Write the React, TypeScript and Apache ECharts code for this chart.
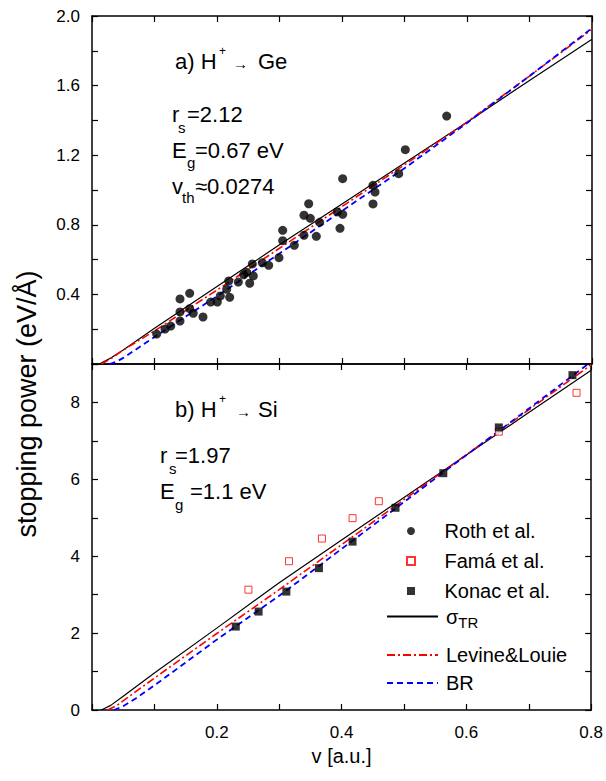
import React, { useEffect, useRef } from 'react';
import * as echarts from 'echarts';

const FONT = "'Liberation Sans', Arial, Helvetica, sans-serif";

// ---------- panel a) H+ -> Ge ----------
const rothV = [0.1035, 0.1168, 0.126, 0.1408, 0.1408, 0.1408, 0.1563, 0.1563, 0.162, 0.1776, 0.1899, 0.2005, 0.2053, 0.2155, 0.2203, 0.2187, 0.2341, 0.2427, 0.2475, 0.2523, 0.2565, 0.2581, 0.2725, 0.2827, 0.2992, 0.3051, 0.3051, 0.3237, 0.3392, 0.3392, 0.3467, 0.3493, 0.3589, 0.3643, 0.3925, 0.3968, 0.4011, 0.4011, 0.4496, 0.4528, 0.4496, 0.4907, 0.5013, 0.5675];
const rothS = [0.172, 0.201, 0.218, 0.247, 0.299, 0.374, 0.406, 0.318, 0.291, 0.27, 0.356, 0.356, 0.391, 0.429, 0.383, 0.477, 0.471, 0.513, 0.527, 0.464, 0.575, 0.506, 0.582, 0.567, 0.611, 0.709, 0.768, 0.682, 0.74, 0.855, 0.921, 0.837, 0.734, 0.814, 0.874, 0.78, 0.86, 1.065, 1.027, 0.988, 0.92, 1.094, 1.232, 1.425];

const geTrV = [0.012, 0.02, 0.03, 0.05, 0.1, 0.2, 0.3, 0.4, 0.5, 0.6, 0.7, 0.8];
const geTrS = [0, 0.015, 0.035, 0.08, 0.205, 0.445, 0.685, 0.92, 1.155, 1.39, 1.63, 1.866];
const geLlV = [0.015, 0.03, 0.05, 0.1, 0.2, 0.3, 0.4, 0.5, 0.6, 0.7, 0.8];
const geLlS = [0, 0.03, 0.08, 0.19, 0.425, 0.665, 0.905, 1.145, 1.39, 1.655, 1.923];
const geBrV = [0.028, 0.04, 0.05, 0.1, 0.2, 0.3, 0.4, 0.5, 0.6, 0.7, 0.8];
const geBrS = [0, 0.015, 0.035, 0.155, 0.39, 0.635, 0.88, 1.125, 1.385, 1.655, 1.93];

// ---------- panel b) H+ -> Si ----------
const famaV = [0.2507, 0.3157, 0.3685, 0.4176, 0.4597, 0.652, 0.7765];
const famaS = [3.13, 3.87, 4.46, 4.99, 5.43, 7.24, 8.25];
const konacV = [0.2304, 0.267, 0.3115, 0.3637, 0.4176, 0.4864, 0.563, 0.652, 0.77];
const konacS = [2.17, 2.56, 3.08, 3.69, 4.38, 5.26, 6.16, 7.35, 8.71];

const siTrV = [0.015, 0.03, 0.05, 0.1, 0.2, 0.3, 0.4, 0.5, 0.6, 0.7, 0.8];
const siTrS = [0, 0.12, 0.36, 0.96, 2.13, 3.31, 4.42, 5.53, 6.63, 7.74, 8.84];
const siLlV = [0.025, 0.04, 0.06, 0.1, 0.2, 0.3, 0.4, 0.5, 0.6, 0.7, 0.8];
const siLlS = [0, 0.12, 0.36, 0.83, 1.99, 3.13, 4.3, 5.47, 6.64, 7.81, 8.98];
const siBrV = [0.035, 0.05, 0.07, 0.1, 0.2, 0.3, 0.4, 0.5, 0.6, 0.7, 0.8];
const siBrS = [0, 0.1, 0.3, 0.64, 1.83, 2.97, 4.19, 5.41, 6.63, 7.84, 9.06];

const legendMarkers = ['Roth et al.', 'Famá et al.', 'Konac et al.'];
const legendTheory = ['σTR'];
const legendOthers = ['Levine&Louie', 'BR'];

const SQUARE_ICON = 'path://M0 0H10V10H0Z';

const zip = (a: number[], b: number[]) => a.map((v, i) => [v, b[i]]);

const TR_STYLE = { color: '#000000', width: 1.2, type: 'solid' as const };
const LL_STYLE = { color: '#ff0000', width: 1.6, type: [8, 3, 2, 3] };
const BR_STYLE = { color: '#0000ff', width: 1.8, type: [6, 4] };

function xAx(gridIndex: number, position: 'top' | 'bottom', labels: boolean) {
  return {
    type: 'value',
    gridIndex,
    position,
    min: 0,
    max: 0.8,
    interval: 0.1,
    axisLine: { show: true, onZero: false, lineStyle: { color: '#000', width: 1.5 } },
    axisTick: { show: true, inside: true, length: 6, lineStyle: { color: '#000', width: 1.2 } },
    splitLine: { show: false },
    axisLabel: {
      show: labels,
      margin: 14,
      fontSize: 17,
      fontFamily: FONT,
      color: '#000',
      showMinLabel: true,
      showMaxLabel: true,
      formatter: (v: number) => {
        const k = Math.round(v * 10);
        return k > 0 && k % 2 === 0 ? v.toFixed(1) : '';
      },
    },
  };
}

function yAx(gridIndex: number, position: 'left' | 'right', labels: boolean, max: number, interval: number, fmt: (v: number) => string) {
  return {
    type: 'value',
    gridIndex,
    position,
    min: 0,
    max,
    interval,
    axisLine: { show: true, onZero: false, lineStyle: { color: '#000', width: 1.5 } },
    axisTick: { show: true, inside: true, length: 6, lineStyle: { color: '#000', width: 1.2 } },
    splitLine: { show: false },
    axisLabel: {
      show: labels,
      margin: 12,
      fontSize: 17,
      fontFamily: FONT,
      color: '#000',
      showMinLabel: true,
      showMaxLabel: true,
      formatter: fmt,
    },
  };
}

function txt(text: string, x: number, y: number, size: number, extra: any = {}) {
  return {
    type: 'text',
    x,
    y,
    silent: true,
    style: {
      text,
      fontSize: size,
      fontFamily: FONT,
      fill: '#000',
      align: 'left',
      verticalAlign: 'middle',
      textAlign: 'left',
      textVerticalAlign: 'middle',
      ...extra,
    },
  };
}

const HIDDEN_SYMBOL = { color: 'rgba(0,0,0,0)', borderColor: 'rgba(0,0,0,0)', borderWidth: 0, opacity: 0 };

export default function App() {
  const ref = useRef<HTMLDivElement>(null);
  useEffect(() => {
    document.body.style.margin = '0';
    if (!ref.current) return;
    const chart = echarts.init(ref.current, null, { renderer: 'svg' });

    const topFmt = (v: number) => {
      const k = Math.round(v * 10);
      return k > 0 && k % 4 === 0 ? v.toFixed(1) : '';
    };
    const botFmt = (v: number) => {
      const k = Math.round(v);
      return k % 2 === 0 ? String(k) : '';
    };

    const legendBase = {
      orient: 'vertical',
      left: 386,
      padding: 0,
      itemWidth: 51,
      itemHeight: 8,
      itemGap: 0,
      selectedMode: false,
    };

    const option: any = {
      animation: false,
      backgroundColor: '#ffffff',
      grid: [
        { left: 92, top: 16, width: 500, height: 348 },
        { left: 92, top: 364, width: 500, height: 346 },
      ],
      xAxis: [
        xAx(0, 'bottom', false),
        xAx(0, 'top', false),
        {
          ...xAx(1, 'bottom', true),
          name: 'v [a.u.]',
          nameLocation: 'middle',
          nameGap: 36,
          nameTextStyle: { fontSize: 20, fontFamily: FONT, color: '#000' },
        },
        xAx(1, 'top', false),
      ],
      yAxis: [
        yAx(0, 'left', true, 2.0, 0.2, topFmt),
        yAx(0, 'right', false, 2.0, 0.2, topFmt),
        yAx(1, 'left', true, 9, 1, botFmt),
        yAx(1, 'right', false, 9, 1, botFmt),
      ],
      legend: [
        {
          ...legendBase,
          left: 406,
          top: 516,
          data: legendMarkers.map((n, i) => (i === 0 ? { name: n } : { name: n, icon: SQUARE_ICON })),
          textStyle: { fontSize: 20, lineHeight: 30, fontFamily: FONT, color: '#000', padding: [0, 0, 0, 3] },
        },
        {
          ...legendBase,
          top: 603,
          data: legendTheory,
          itemStyle: HIDDEN_SYMBOL,
          formatter: () => '{a|σ}{b|TR}',
          textStyle: {
            fontFamily: FONT,
            color: '#000',
            padding: [0, 0, 0, 3],
            rich: {
              a: { fontSize: 20, fontFamily: FONT, color: '#000', lineHeight: 22 },
              b: { fontSize: 15, fontFamily: FONT, color: '#000', lineHeight: 16, padding: [12, 0, 0, 0] },
            },
          },
        },
        {
          ...legendBase,
          top: 641,
          data: legendOthers,
          itemStyle: HIDDEN_SYMBOL,
          textStyle: { fontSize: 20, lineHeight: 28, fontFamily: FONT, color: '#000', padding: [0, 0, 0, 3] },
        },
      ],
      series: [
        { name: 'σTR', type: 'line', xAxisIndex: 0, yAxisIndex: 0, symbol: 'none', data: zip(geTrV, geTrS), lineStyle: TR_STYLE, itemStyle: { color: '#000' } },
        { name: 'Levine&Louie', type: 'line', xAxisIndex: 0, yAxisIndex: 0, symbol: 'none', data: zip(geLlV, geLlS), lineStyle: LL_STYLE, itemStyle: { color: '#ff0000' } },
        { name: 'BR', type: 'line', xAxisIndex: 0, yAxisIndex: 0, symbol: 'none', data: zip(geBrV, geBrS), lineStyle: BR_STYLE, itemStyle: { color: '#0000ff' } },
        { name: 'Roth et al.', type: 'scatter', xAxisIndex: 0, yAxisIndex: 0, symbol: 'circle', symbolSize: 9, data: zip(rothV, rothS), itemStyle: { color: '#000' }, z: 5 },

        { name: 'σTR', type: 'line', xAxisIndex: 2, yAxisIndex: 2, symbol: 'none', data: zip(siTrV, siTrS), lineStyle: TR_STYLE, itemStyle: { color: '#000' } },
        { name: 'Levine&Louie', type: 'line', xAxisIndex: 2, yAxisIndex: 2, symbol: 'none', data: zip(siLlV, siLlS), lineStyle: LL_STYLE, itemStyle: { color: '#ff0000' } },
        { name: 'BR', type: 'line', xAxisIndex: 2, yAxisIndex: 2, symbol: 'none', data: zip(siBrV, siBrS), lineStyle: BR_STYLE, itemStyle: { color: '#0000ff' } },
        { name: 'Famá et al.', type: 'scatter', xAxisIndex: 2, yAxisIndex: 2, symbol: 'rect', symbolSize: 7, data: zip(famaV, famaS), itemStyle: { color: '#ffffff', borderColor: '#ff0000', borderWidth: 1 }, z: 5 },
        { name: 'Konac et al.', type: 'scatter', xAxisIndex: 2, yAxisIndex: 2, symbol: 'rect', symbolSize: 8, data: zip(konacV, konacS), itemStyle: { color: '#000' }, z: 5 },
      ],
      graphic: [
        {
          type: 'text',
          x: 27,
          y: 404,
          rotation: Math.PI / 2,
          silent: true,
          style: {
            text: 'stopping power (eV/Å)',
            fontSize: 27,
            fontFamily: FONT,
            fill: '#000',
            align: 'center',
            verticalAlign: 'middle',
            textAlign: 'center',
            textVerticalAlign: 'middle',
          },
        },
        // panel a
        txt('a) H', 175, 61, 22),
        txt('+', 219, 51, 12),
        txt('→', 233, 63, 15),
        txt('Ge', 258, 61, 22),
        txt('r', 172, 114, 22),
        txt('s', 178, 127, 15),
        txt('=2.12', 187, 114, 22),
        txt('E', 172, 150, 22),
        txt('g', 187, 162, 15),
        txt('=0.67 eV', 195, 150, 22),
        txt('v', 172, 186, 22),
        txt('th', 182, 197, 15),
        txt('≈0.0274', 195, 186, 22),
        // panel b
        txt('b) H', 175, 409, 22),
        txt('+', 219, 399, 12),
        txt('→', 236, 411, 15),
        txt('Si', 258, 409, 22),
        txt('r', 160, 455, 22),
        txt('s', 169, 468, 15),
        txt('=1.97', 175, 455, 22),
        txt('E', 160, 491, 22),
        txt('g', 175, 504, 15),
        txt('=1.1 eV', 190, 491, 22),
      ],
    };
    chart.setOption(option);
    return () => chart.dispose();
  }, []);
  return <div ref={ref} style={{ width: 606, height: 781, position: 'absolute', left: 0, top: 0 }} />;
}
